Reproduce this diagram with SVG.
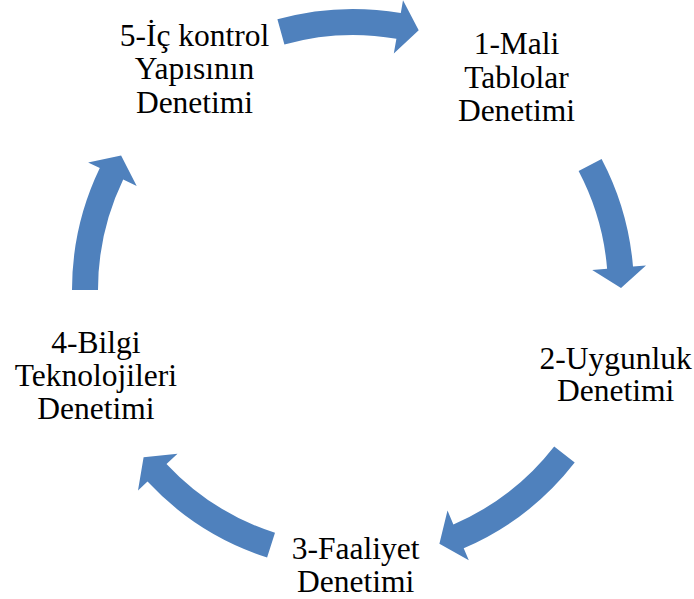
<svg xmlns="http://www.w3.org/2000/svg" width="694" height="599" viewBox="0 0 694 599">
<style>
.arr{fill:#4F81BD;stroke:none}
.lbl{font-family:'Liberation Serif','DejaVu Serif',serif;font-size:31.5px;fill:#000;text-anchor:middle}
</style>
<rect width="694" height="599" fill="#fff"/>
<g id="connectors">
<path class="arr" d="M 277.4,19.3 A 281 281 0 0 1 400.8,13.1 L 403.0,0.3 L 418.7,30.2 L 393.8,53.5 L 396.4,38.7 A 255 255 0 0 0 284.4,44.4 Z"/>
<path class="arr" d="M 601.6,158.9 A 281 281 0 0 1 633.0,266.5 L 646.0,265.4 L 621.0,288.1 L 592.2,269.9 L 607.1,268.7 A 255 255 0 0 0 578.6,171.1 Z"/>
<path class="arr" d="M 574.7,462.6 A 281 281 0 0 1 463.7,548.3 L 468.8,560.2 L 439.4,543.7 L 447.5,510.6 L 453.4,524.4 A 255 255 0 0 0 554.2,446.6 Z"/>
<path class="arr" d="M 267.1,557.5 A 281 281 0 0 1 147.5,481.6 L 138.0,490.5 L 143.6,457.2 L 177.5,453.7 L 166.5,463.9 A 255 255 0 0 0 275.0,532.8 Z"/>
<path class="arr" d="M 72,290 A 281 281 0 0 1 99.8,168.1 L 88.1,162.5 L 121.1,155.6 L 136.7,185.9 L 123.2,179.4 A 255 255 0 0 0 98,290 Z"/>
</g>
<g id="node1">
<text class="lbl" x="516.5" y="54" font-family="Liberation Serif, DejaVu Serif, serif">1-Mali</text>
<text class="lbl" x="516.5" y="87.5" font-family="Liberation Serif, DejaVu Serif, serif">Tablolar</text>
<text class="lbl" x="516.5" y="121" font-family="Liberation Serif, DejaVu Serif, serif">Denetimi</text>
</g>
<g id="node2">
<text class="lbl" x="615.7" y="369">2-Uygunluk</text>
<text class="lbl" x="615.7" y="401">Denetimi</text>
</g>
<g id="node3">
<text class="lbl" x="355.7" y="559">3-Faaliyet</text>
<text class="lbl" x="355.7" y="592">Denetimi</text>
</g>
<g id="node4">
<text class="lbl" x="95.8" y="353">4-Bilgi</text>
<text class="lbl" x="95.8" y="386">Teknolojileri</text>
<text class="lbl" x="95.8" y="419">Denetimi</text>
</g>
<g id="node5">
<text class="lbl" x="194.5" y="46">5-İç kontrol</text>
<text class="lbl" x="194.5" y="79">Yapısının</text>
<text class="lbl" x="194.5" y="112.5">Denetimi</text>
</g>
</svg>
